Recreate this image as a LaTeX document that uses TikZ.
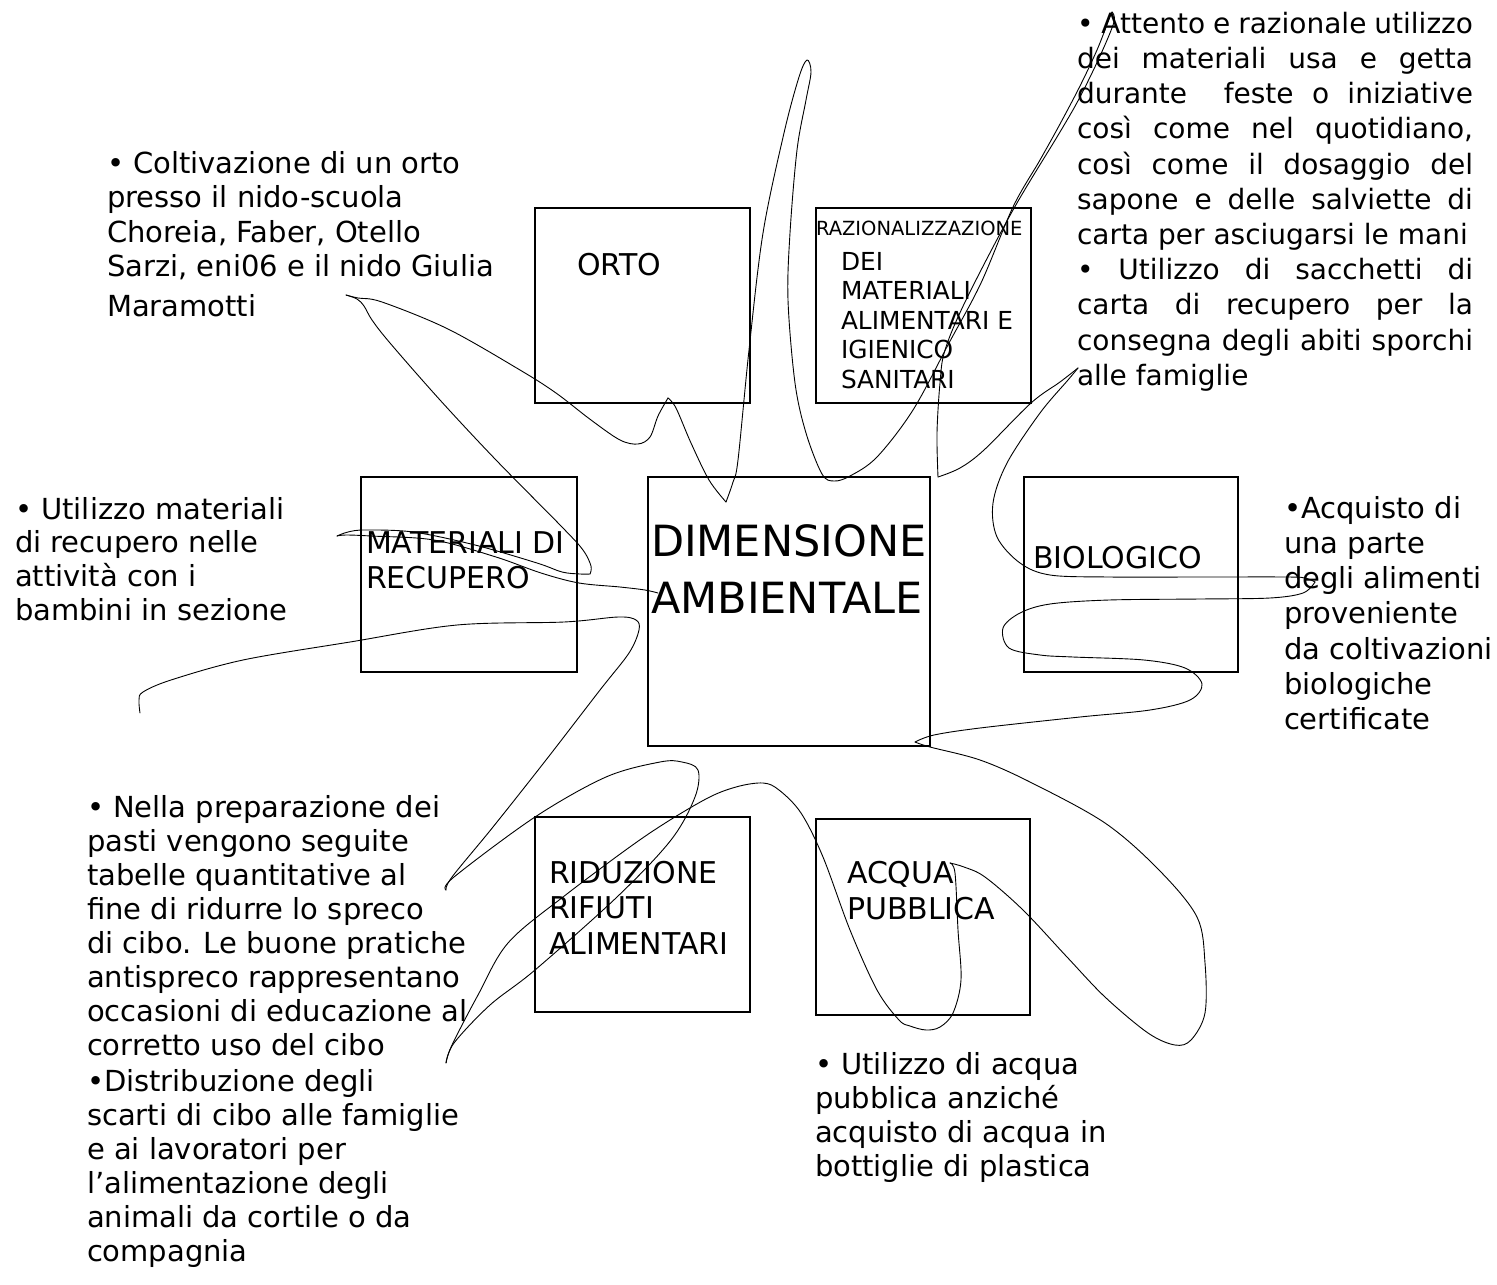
\documentclass[tikz,border=0pt]{standalone}
\usepackage{fontspec}
\setmainfont{DejaVu Sans}
\setlength{\parindent}{0pt}
\begin{document}
\begin{tikzpicture}[x=1pt,y=-1pt,
  box/.style={draw, line width=2.3pt, anchor=north west, inner sep=0pt, outer sep=0pt},
  lbl/.style={inner sep=0pt, outer sep=0pt, align=left, anchor=north west},
  boxlbl/.style={lbl, font=\fontsize{30}{35.5}\selectfont},
  body/.style={lbl, font=\fontsize{29}{34}\selectfont},
  scrib/.style={line width=0.9pt, line join=round, line cap=round},
  sm/.style={smooth, tension=0.55}]
\useasboundingbox (0,0) rectangle (1497,1285);

% boxes
\node[box, minimum width=215, minimum height=195] (orto) at (535,208) {};
\node[box, minimum width=215, minimum height=195] (raz) at (816,208) {};
\node[box, minimum width=216, minimum height=195] (mat) at (361,477) {};
\node[box, minimum width=282, minimum height=269] (dim) at (648,477) {};
\node[box, minimum width=214, minimum height=195] (bio) at (1024,477) {};
\node[box, minimum width=215, minimum height=195] (rid) at (535,817) {};
\node[box, minimum width=214, minimum height=196] (acq) at (816,819) {};

% box labels
\node[boxlbl, anchor=west] (tOrto) at (577,265) {ORTO};
\node[lbl, anchor=west, font=\fontsize{19.5}{23}\selectfont] (tRaz) at (816,228) {RAZIONALIZZAZIONE};
\node[lbl, font=\fontsize{24.8}{29.5}\selectfont] (tDei) at (841,252) {DEI\\MATERIALI\\ALIMENTARI E\\IGIENICO\\SANITARI};
\node[boxlbl, font=\fontsize{30}{35}\selectfont] (tMat) at (366,532) {MATERIALI DI\\RECUPERO};
\node[lbl, font=\fontsize{43}{57}\selectfont] (tDim) at (651,525) {DIMENSIONE\\AMBIENTALE};
\node[boxlbl, anchor=west] (tBio) at (1033,558) {BIOLOGICO};
\node[boxlbl] (tRid) at (549,861) {RIDUZIONE\\RIFIUTI\\ALIMENTARI};
\node[boxlbl, font=\fontsize{30}{36}\selectfont] (tAcq) at (847,861) {ACQUA\\PUBBLICA};

% body texts
\node[body, font=\fontsize{29}{34.5}\selectfont] (txOrto) at (107,151) {• Coltivazione di un orto\\presso il nido-scuola\\Choreia, Faber, Otello\\Sarzi, eni06 e il nido Giulia\\[5pt]Maramotti};
\node[body, font=\fontsize{29}{33.8}\selectfont] (txMat) at (15,497) {• Utilizzo materiali\\di recupero nelle\\attività con i\\bambini in sezione};
\node[body] (txRid) at (87,795) {• Nella preparazione dei\\pasti vengono seguite\\tabelle quantitative al\\fine di ridurre lo spreco\\di cibo. Le buone pratiche\\antispreco rappresentano\\occasioni di educazione al\\corretto uso del cibo\\[2pt]•Distribuzione degli\\scarti di cibo alle famiglie\\e ai lavoratori per\\l’alimentazione degli\\animali da cortile o da\\compagnia};
\node[body] (txAcq) at (815,1052) {• Utilizzo di acqua\\pubblica anziché\\acquisto di acqua in\\bottiglie di plastica};
\node[body, font=\fontsize{29}{35.3}\selectfont] (txBio) at (1284,496) {•Acquisto di\\una parte\\degli alimenti\\proveniente\\da coltivazioni\\biologiche\\certificate};
\node[lbl, text width=396, align=justify, font=\fontsize{28}{35.2}\selectfont] (txRaz) at (1077,12) {• Attento e razionale utilizzo\linebreak dei materiali usa e getta\linebreak durante\ \ feste o iniziative\linebreak così come nel quotidiano,\linebreak così come il dosaggio del\linebreak sapone e delle salviette di\linebreak carta per asciugarsi le mani\par • Utilizzo di sacchetti di\linebreak carta di recupero per la\linebreak consegna degli abiti sporchi\linebreak alle famiglie};

% freehand scribble
\draw[scrib] plot[sm] coordinates {(658,593) (645,590) (620,587) (579,583) (541,573) (496,557) (434,540) (371,536) (346,535) (337,536)};
\draw[scrib] plot[sm] coordinates {(337,536) (348,532) (365,530) (413,532) (475,545) (537,563) (562,572) (580,574) (590,574)};
\draw[scrib] plot[sm] coordinates {(590,574) (591,566) (583,550) (562,527) (496,460) (440,400) (390,343) (372,320) (364,306) (357,299) (346,295)};
\draw[scrib] plot[sm] coordinates {(346,295) (358,298) (382,302) (448,329) (520,370) (556,393) (591,420) (620,440) (638,444) (650,437) (658,416) (668,398)};
\draw[scrib] plot[sm] coordinates {(668,398) (676,408) (691,443) (709,480) (726,502)};
\draw[scrib] plot[sm] coordinates {(726,502) (733,482) (738,460) (749,350) (763,233) (784,133) (799,77) (807,60) (811,72) (806,100) (797,150) (790,233) (788,300) (795,383) (806,433) (822,474) (834,481) (850,476) (877,457) (913,410) (949,343) (981,283) (1013,207) (1040,160) (1060,124) (1080,86) (1097,50) (1108,22) (1112,12)};
\draw[scrib] plot[sm] coordinates {(1112,12) (1114,22) (1100,56) (1080,97) (1060,132) (1013,210) (966,300) (945,350) (940,383) (937,433) (938,477)};
\draw[scrib] plot[sm] coordinates {(938,477) (960,468) (984,450) (1031,403) (1060,382) (1078,368)};
\draw[scrib] plot[sm] coordinates {(1078,368) (1068,380) (1040,413) (1007,463) (993,503) (997,537) (1020,563) (1050,575) (1109,577) (1200,577) (1287,577) (1305,578) (1315,582)};
\draw[scrib] plot[sm] coordinates {(1315,582) (1303,593) (1270,598) (1200,599) (1109,600) (1050,604) (1020,613) (1003,628) (1009,648) (1040,655) (1073,657) (1144,660) (1185,668) (1202,684) (1190,700) (1150,710) (1080,717) (980,728) (934,735) (915,742)};
\draw[scrib] plot[sm] coordinates {(915,742) (930,747) (980,760) (1030,782) (1105,823) (1159,870) (1197,917) (1205,963) (1205,1013) (1191,1040) (1175,1045) (1148,1033) (1105,997) (1067,957) (1023,910) (985,877) (964,867) (950,863)};
\draw[scrib] plot[sm] coordinates {(950,863) (955,873) (958,930) (961,980) (953,1013) (940,1027) (926,1030) (910,1026) (899,1020) (877,990) (850,930) (823,857) (801,813) (779,790) (763,783) (736,787) (704,800) (644,837) (563,897) (508,943) (478,995) (452,1045) (446,1063)};
\draw[scrib] plot[sm] coordinates {(446,1063) (454,1043) (490,1005) (535,970) (617,897) (671,840) (695,797) (698,770) (682,762) (660,762) (606,777) (535,817) (454,877) (446,890)};
\draw[scrib] plot[sm] coordinates {(446,890) (452,877) (493,827) (546,760) (600,690) (629,653) (639,630) (636,620) (618,617) (564,622) (457,625) (350,642) (243,660) (171,680) (143,692) (139,700) (140,713)};
\end{tikzpicture}
\end{document}
